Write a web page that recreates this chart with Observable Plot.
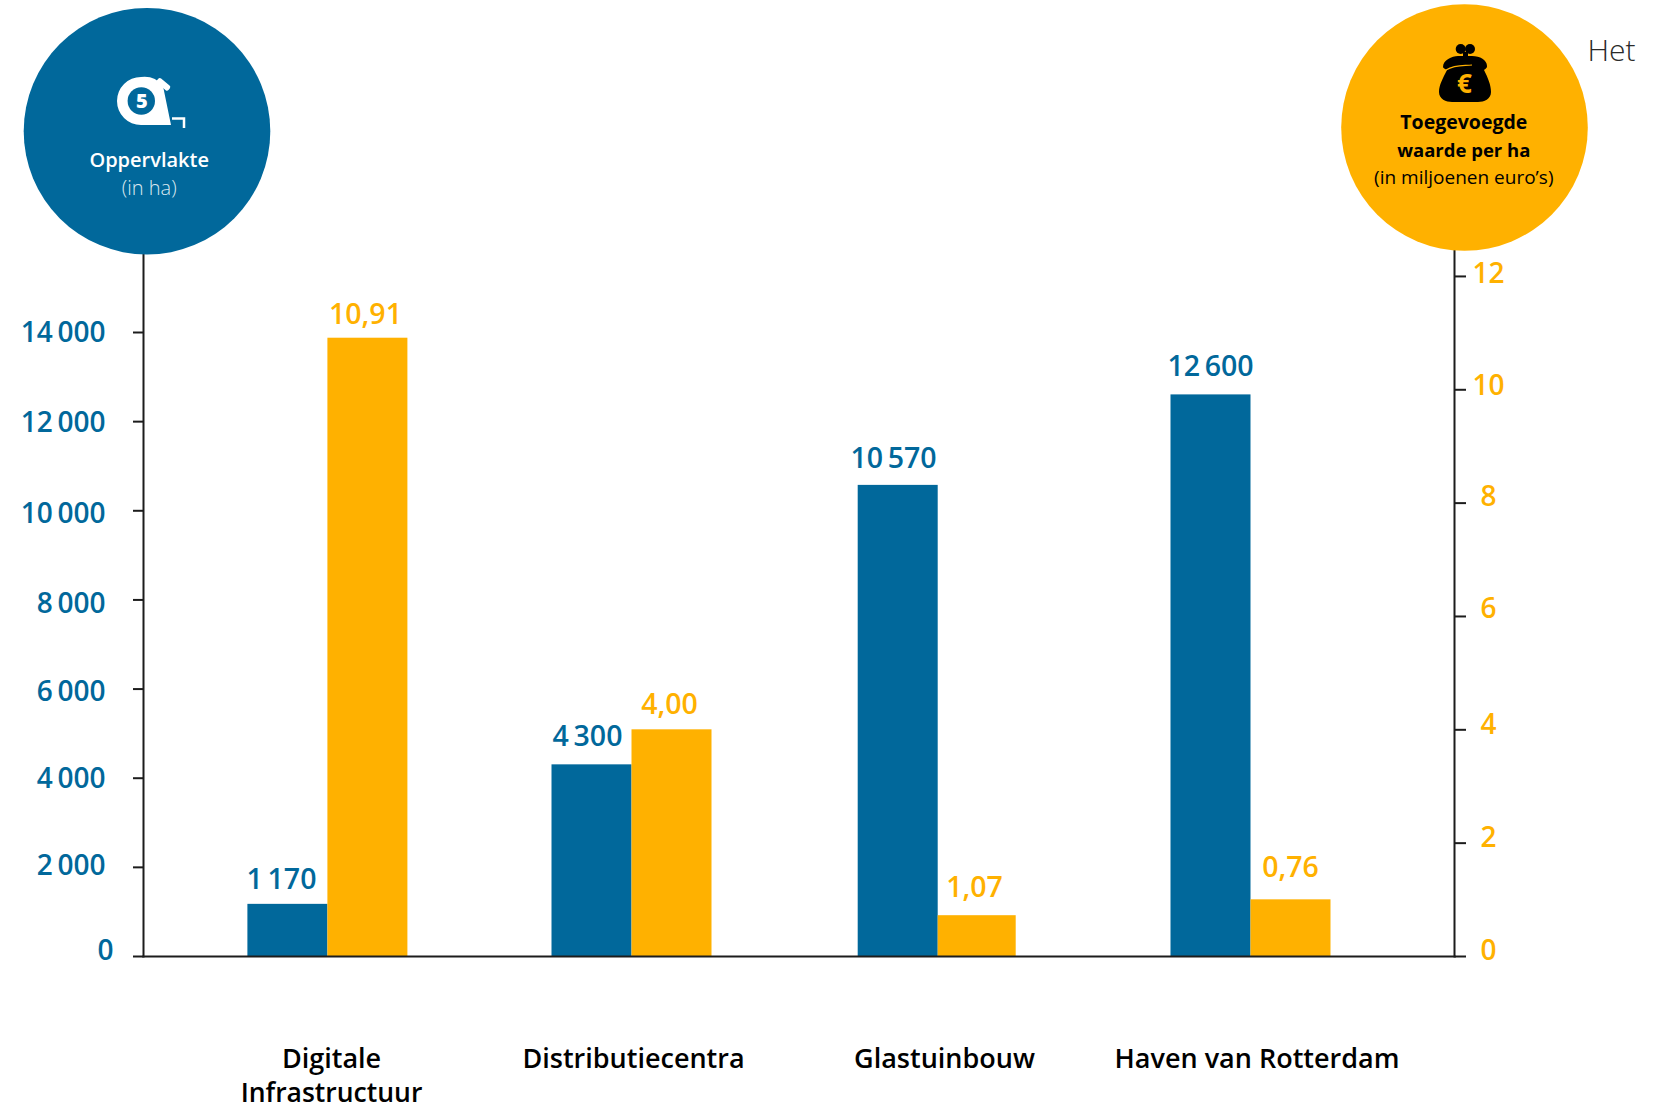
<!DOCTYPE html>
<html><head><meta charset="utf-8">
<script src="https://cdn.jsdelivr.net/npm/d3@7"></script>
<script src="https://cdn.jsdelivr.net/npm/@observablehq/plot@0.6"></script>
<style>html,body{margin:0;padding:0;background:#fff}svg{display:block}</style>
</head><body><div id="chart"></div>
<script>
const categories = ["Digitale Infrastructuur","Distributiecentra","Glastuinbouw","Haven van Rotterdam"];
const categoryLines = [["Digitale","Infrastructuur"],["Distributiecentra"],["Glastuinbouw"],["Haven van Rotterdam"]];
const areaValues = [1170,4300,10570,12600];
const areaLabels = ["1\u2009170","4\u2009300","10\u2009570","12\u2009600"];
const addedValueBars = [10.91,4.0,0.72,1.0];
const addedValueLabels = ["10,91","4,00","1,07","0,76"];
const areaTicks = [0,2000,4000,6000,8000,10000,12000,14000];
const valueTicks = [0,2,4,6,8,10,12];

const BLUE="#01689b", ORANGE="#ffb100", INK="#1c1c1c", FONT="'Open Sans'";
const toArea = v => v*56.67/0.04457;
const thin = n => d3.format(",")(n).replace(/,/g,"\u2009");
const area = categories.map((c,i)=>({c,v:areaValues[i],l:areaLabels[i]}));
const added = categories.map((c,i)=>({c,v:toArea(addedValueBars[i]),l:addedValueLabels[i]}));

// small per-item layout nudges, in pixels
const groupDx = [0.4,-2.5,-3.3,2.5];
const orangeTrim = [0,0,2,0];
const areaLabelDx = [-46,-47,-48,-38], areaLabelDy = [-15,-19,-17,-19];
const addedLabelDx = [38,35,33,42], addedLabelDy = [-14,-16,-19,-23];
const catDx = [[4,4],[-1],[3],[8.5]];
const catDy = [[103,137],[103],[103],[103]];
const areaTickDy = [0,-1,1,3,4.4,3,1,0.7];
const valueTickDy = [-5,-4.7,-4.3,-7,-5.7,-3.3,-2.5];

const tape = () => {
  const g=d3.create("svg:g");
  g.html(`<path d="M141 77 A24 24 0 1 0 141 125 L171 125 L163 86 A24 24 0 0 0 141 77Z" fill="#fff"/>
  <rect x="156" y="81" width="15" height="6" rx="2" transform="rotate(40 163 84)" fill="#fff"/>
  <path d="M172 118.5H184V128" fill="none" stroke="#fff" stroke-width="2.5"/>
  <circle cx="141.3" cy="101" r="13.7" fill="${BLUE}"/>`);
  return g.node();
};
const purse = () => {
  const g=d3.create("svg:g");
  g.html(`<circle cx="1460.7" cy="49" r="5" fill="#000"/><circle cx="1470" cy="49" r="5" fill="#000"/>
  <path d="M1463 52h5v8h-5z" fill="#000"/>
  <path d="M1443 67C1443 60 1452 56 1458 56L1472 56C1480 56 1487 60 1487 66C1487 67 1487 68 1484 70C1488 78 1491 85 1491 92C1491 99 1484 102 1478 102L1452 102C1446 102 1439 99 1439 92C1439 85 1443 78 1447 70C1445 69 1443 68 1443 67Z" fill="#000"/>
  <path d="M1446 70C1456 64 1464 66 1472 65" fill="none" stroke="${ORANGE}" stroke-width="1.2"/>`);
  return g.node();
};
const note = (text,fontSize,fontWeight,fill,anchor,dx,dy) =>
  Plot.text([text],{text:d=>d,frameAnchor:anchor,dx,dy,fontSize,fontWeight,fill,textAnchor:"middle",lineAnchor:"bottom"});

const plot = Plot.plot({
  width:1671,height:1111,
  marginLeft:143,marginRight:217,marginTop:200,marginBottom:155,
  style:{fontFamily:FONT,background:"#fff"},
  x:{type:"band",domain:categories,range:[245,1329],paddingInner:0.48,paddingOuter:0,axis:null},
  y:{domain:[0,14000],range:[956,332],axis:null},
  marks:[
    ...categories.flatMap((c,i)=>[
      Plot.barY([area[i]],{x:"c",y:"v",fill:BLUE,insetRight:80,dx:groupDx[i]}),
      Plot.barY([added[i]],{x:"c",y:"v",fill:ORANGE,insetLeft:80,insetRight:orangeTrim[i],dx:groupDx[i]}),
      Plot.text([area[i]],{x:"c",y:"v",text:"l",dx:areaLabelDx[i],dy:areaLabelDy[i],lineAnchor:"bottom",fontSize:28.5,fontWeight:600,fill:BLUE}),
      Plot.text([added[i]],{x:"c",y:"v",text:"l",dx:addedLabelDx[i],dy:addedLabelDy[i],lineAnchor:"bottom",fontSize:28.5,fontWeight:600,fill:ORANGE})
    ]),
    Plot.frame({anchor:"left",stroke:INK,strokeWidth:2}),
    Plot.frame({anchor:"right",stroke:INK,strokeWidth:2}),
    Plot.frame({anchor:"bottom",stroke:INK,strokeWidth:2}),
    Plot.axisY({ticks:areaTicks,anchor:"left",label:null,tickSize:10,fill:"none",stroke:INK,strokeWidth:2}),
    Plot.axisY({ticks:valueTicks.map(toArea),anchor:"right",label:null,tickSize:11,fill:"none",stroke:INK,strokeWidth:2}),
    ...areaTicks.filter(d=>d>0).map((t,i)=>Plot.text([t],{text:thin,y:d=>d,frameAnchor:"left",dx:-38,dy:areaTickDy[i+1],fontSize:28,fontWeight:600,fill:BLUE,textAnchor:"end"})),
    Plot.text(["0"],{text:d=>d,y:0,frameAnchor:"left",dx:-30,dy:-5,fontSize:28,fontWeight:600,fill:BLUE,textAnchor:"end"}),
    ...valueTicks.map((t,i)=>Plot.text([t],{text:d=>String(d),y:toArea,frameAnchor:"right",dx:34,dy:valueTickDy[i],fontSize:28,fontWeight:600,fill:ORANGE,textAnchor:"middle"})),
    ...categoryLines.flatMap((ls,i)=>ls.map((line,j)=>Plot.text([categories[i]],{x:d=>d,text:()=>line,frameAnchor:"bottom",lineAnchor:"middle",dx:catDx[i][j],dy:catDy[i][j],fontSize:j?26.5:27,fontWeight:600,fill:"#000"}))),
    Plot.dot([0],{frameAnchor:"top-left",dx:3.5,dy:-69.3,r:123.3,fill:BLUE}),
    Plot.dot([0],{frameAnchor:"top-right",dx:10,dy:-73,r:123.3,fill:ORANGE}),
    tape, purse,
    Plot.text(["5"],{text:d=>d,frameAnchor:"top-left",textAnchor:"middle",lineAnchor:"middle",dx:-1.7,dy:-99,fontSize:20,fontWeight:800,fill:"#fff"}),
    note("Oppervlakte",20,600,"#fff","top-left",5.7,-34),
    note("(in ha)",20,300,"#dbe8f0","top-left",5.7,-6),
    Plot.text(["€"],{text:d=>d,frameAnchor:"top-right",textAnchor:"middle",lineAnchor:"middle",dx:10,dy:-116,fontSize:26,fontWeight:700,fill:ORANGE}),
    note("Toegevoegde",19.5,700,"#000","top-right",9.3,-72),
    note("waarde per ha",18.5,700,"#000","top-right",9.3,-44),
    note("(in miljoenen euro’s)",19,400,"#000","top-right",9.3,-17),
    Plot.text(["Het"],{text:d=>d,frameAnchor:"top-right",dx:133,dy:-140,lineAnchor:"bottom",fontSize:30,fontWeight:300,fill:"#2a2a2a",textAnchor:"start"})
  ]
});
document.getElementById("chart").append(plot);
</script></body></html>
